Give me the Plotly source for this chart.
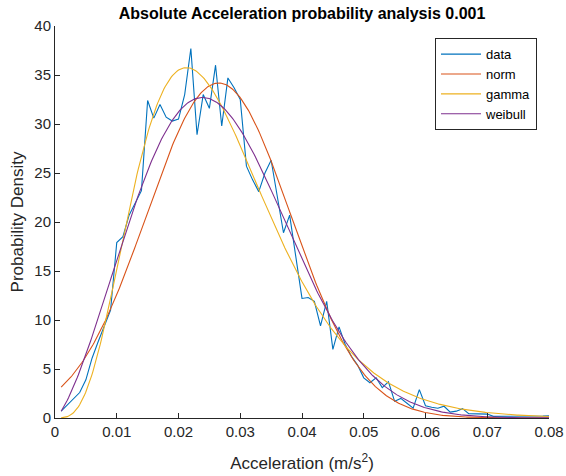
import math
import numpy as np
import plotly.graph_objects as go

# Empirical density of absolute acceleration (bin centres and values)
accel = [round(0.001 * k, 3) for k in range(1, 81)]
density = [
    0.7, 1.3, 1.9, 2.6, 3.9, 6.1, 7.8, 9.3, 11.0, 17.9,
    18.5, 20.7, 22.0, 23.2, 32.4, 30.6, 32.0, 30.7, 30.3, 30.5,
    33.0, 37.7, 28.9, 33.0, 31.6, 36.0, 29.8, 34.7, 33.7, 32.5,
    25.7, 24.3, 23.1, 25.0, 26.3, 22.4, 18.9, 20.7, 16.4, 12.2,
    12.3, 11.9, 9.4, 11.9, 7.0, 9.3, 7.5, 6.3, 5.4, 4.1,
    3.6, 4.1, 3.1, 3.7, 1.7, 2.0, 1.5, 1.0, 2.9, 1.25,
    1.1, 1.0, 1.2, 0.6, 0.7, 0.95, 0.45, 0.42, 0.4, 0.4,
    0.17, 0.17, 0.16, 0.16, 0.15, 0.16, 0.17, 0.18, 0.2, 0.23,
]

# Fitted distribution parameters
norm_mu, norm_sigma = 0.0265, 0.01167
gamma_shape, gamma_scale = 4.8, 0.0056
weibull_scale, weibull_shape = 0.0299, 2.4

x_fit = np.linspace(0.001, 0.08, 400)


def norm_pdf(x, mu, s):
    return np.exp(-0.5 * ((x - mu) / s) ** 2) / (s * math.sqrt(2 * math.pi))


def gamma_pdf(x, k, theta):
    return (x / theta) ** (k - 1) * np.exp(-x / theta) / (math.gamma(k) * theta)


def weibull_pdf(x, lam, k):
    return (k / lam) * (x / lam) ** (k - 1) * np.exp(-((x / lam) ** k))


series = [
    ("data", accel, density, "#0072BD"),
    ("norm", x_fit, norm_pdf(x_fit, norm_mu, norm_sigma), "#D95319"),
    ("gamma", x_fit, gamma_pdf(x_fit, gamma_shape, gamma_scale), "#EDB120"),
    ("weibull", x_fit, weibull_pdf(x_fit, weibull_scale, weibull_shape), "#7E2F8E"),
]

fig = go.Figure()
for name, xs, ys, color in series:
    fig.add_trace(go.Scatter(x=xs, y=ys, mode="lines", name=name,
                             line=dict(color=color, width=1.1)))

axis_color = "#262626"
font_family = "Liberation Sans, Arial, sans-serif"

fig.update_layout(
    width=566, height=476,
    margin=dict(l=55, r=17, t=26, b=58, autoexpand=False),
    paper_bgcolor="white", plot_bgcolor="white",
    font=dict(family=font_family, color=axis_color, size=15),
    title=dict(text="<b>Absolute Acceleration probability analysis 0.001</b>",
               x=0.5 * (55 + 549) / 566, xanchor="center",
               y=1 - 13 / 476, yanchor="middle",
               font=dict(size=16, color="black")),
    legend=dict(x=0.9757, y=0.969, xanchor="right", yanchor="top",
                bgcolor="white", bordercolor=axis_color, borderwidth=1,
                font=dict(size=13, color="black"), tracegroupgap=0,
                itemwidth=40),
    showlegend=True,
)

fig.update_xaxes(
    range=[0, 0.08], tickvals=[0.01 * i for i in range(9)],
    ticktext=["0"] + [f"{0.01 * i:.2f}" for i in range(1, 9)],
    ticks="inside", ticklen=5, tickcolor=axis_color,
    showline=True, linecolor=axis_color, linewidth=1,
    showgrid=False, zeroline=False, automargin=False,
    title=dict(text="Acceleration (m/s<sup>2</sup>)", font=dict(size=17), standoff=18),
)
fig.update_yaxes(
    range=[0, 40], tickvals=list(range(0, 41, 5)),
    ticks="inside", ticklen=5, tickcolor=axis_color,
    showline=True, linecolor=axis_color, linewidth=1,
    showgrid=False, zeroline=False, automargin=False,
    title=dict(text="Probability Density", font=dict(size=17), standoff=6),
)

fig.write_html("out.html")
